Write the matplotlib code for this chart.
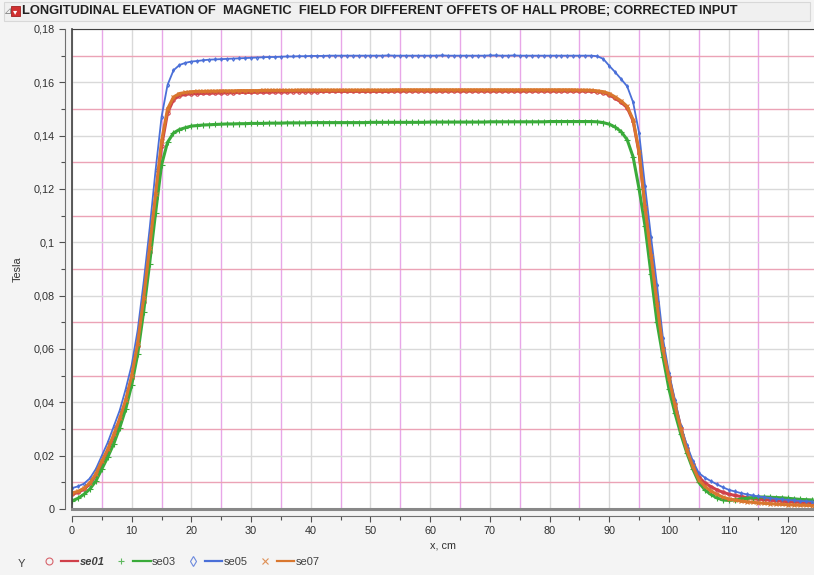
import numpy as np
import matplotlib
matplotlib.use('Agg')
import matplotlib.pyplot as plt
from matplotlib.ticker import MultipleLocator, FuncFormatter
from matplotlib.lines import Line2D
from matplotlib.legend_handler import HandlerTuple
from matplotlib.patches import Rectangle

plt.rcParams['font.family'] = ['Liberation Sans', 'DejaVu Sans']

# position along the magnet axis, cm (one reading per cm)
x_cm = np.arange(0, 125)

# field readings in tesla for each probe offset
se01 = [
    0.0055, 0.0062, 0.0074, 0.0094, 0.0126, 0.0172, 0.0218, 0.0273, 0.0333, 0.0402,
    0.0490, 0.0610, 0.0775, 0.0965, 0.1165, 0.1360, 0.1485, 0.1535, 0.1550, 0.1555,
    0.1557, 0.1558, 0.1559, 0.1559, 0.1560, 0.1560, 0.1561, 0.1561, 0.1562, 0.1562,
    0.1562, 0.1563, 0.1563, 0.1563, 0.1564, 0.1564, 0.1564, 0.1565, 0.1565, 0.1565,
    0.1565, 0.1565, 0.1566, 0.1566, 0.1566, 0.1566, 0.1566, 0.1566, 0.1566, 0.1566,
    0.1566, 0.1566, 0.1566, 0.1566, 0.1567, 0.1567, 0.1567, 0.1567, 0.1567, 0.1567,
    0.1567, 0.1567, 0.1567, 0.1567, 0.1567, 0.1567, 0.1567, 0.1567, 0.1567, 0.1567,
    0.1567, 0.1567, 0.1567, 0.1567, 0.1567, 0.1567, 0.1567, 0.1567, 0.1567, 0.1567,
    0.1567, 0.1567, 0.1567, 0.1567, 0.1567, 0.1567, 0.1567, 0.1566, 0.1565, 0.1561,
    0.1553, 0.1540, 0.1525, 0.1505, 0.1455, 0.1335, 0.1135, 0.0955, 0.0775, 0.0605,
    0.0495, 0.0395, 0.0305, 0.0228, 0.0168, 0.0120, 0.0098, 0.0084, 0.0072, 0.0063,
    0.0056, 0.0051, 0.0047, 0.0043, 0.0040, 0.0037, 0.0035, 0.0033, 0.0031, 0.0029,
    0.0027, 0.0026, 0.0025, 0.0024, 0.0023]

se03 = [
    0.0030, 0.0040, 0.0055, 0.0075, 0.0105, 0.0150, 0.0195, 0.0245, 0.0305, 0.0375,
    0.0465, 0.0580, 0.0740, 0.0920, 0.1110, 0.1290, 0.1375, 0.1410, 0.1423, 0.1430,
    0.1436, 0.1438, 0.1440, 0.1441, 0.1442, 0.1443, 0.1444, 0.1444, 0.1445, 0.1445,
    0.1446, 0.1446, 0.1446, 0.1447, 0.1447, 0.1447, 0.1448, 0.1448, 0.1448, 0.1448,
    0.1449, 0.1449, 0.1449, 0.1449, 0.1449, 0.1449, 0.1449, 0.1449, 0.1449, 0.1449,
    0.1450, 0.1450, 0.1450, 0.1450, 0.1450, 0.1450, 0.1450, 0.1450, 0.1450, 0.1450,
    0.1451, 0.1451, 0.1451, 0.1451, 0.1451, 0.1451, 0.1451, 0.1451, 0.1451, 0.1451,
    0.1452, 0.1452, 0.1452, 0.1452, 0.1452, 0.1452, 0.1452, 0.1452, 0.1452, 0.1452,
    0.1453, 0.1453, 0.1453, 0.1453, 0.1453, 0.1453, 0.1453, 0.1453, 0.1452, 0.1449,
    0.1443, 0.1432, 0.1415, 0.1385, 0.1320, 0.1200, 0.1060, 0.0880, 0.0700, 0.0570,
    0.0450, 0.0360, 0.0280, 0.0210, 0.0150, 0.0100, 0.0072, 0.0055, 0.0042, 0.0034,
    0.0032, 0.0034, 0.0037, 0.0040, 0.0043, 0.0045, 0.0045, 0.0044, 0.0043, 0.0042,
    0.0040, 0.0038, 0.0036, 0.0035, 0.0034]

se05 = [
    0.0078, 0.0085, 0.0095, 0.0115, 0.0150, 0.0200, 0.0250, 0.0310, 0.0370, 0.0450,
    0.0540, 0.0670, 0.0850, 0.1050, 0.1270, 0.1470, 0.1590, 0.1645, 0.1665, 0.1673,
    0.1678, 0.1680, 0.1683, 0.1685, 0.1686, 0.1687, 0.1688, 0.1689, 0.1690, 0.1691,
    0.1692, 0.1693, 0.1694, 0.1695, 0.1695, 0.1696, 0.1697, 0.1697, 0.1698, 0.1698,
    0.1699, 0.1699, 0.1699, 0.1700, 0.1700, 0.1700, 0.1700, 0.1700, 0.1700, 0.1700,
    0.1700, 0.1700, 0.1700, 0.1701, 0.1700, 0.1700, 0.1700, 0.1700, 0.1700, 0.1700,
    0.1700, 0.1700, 0.1701, 0.1700, 0.1700, 0.1700, 0.1700, 0.1700, 0.1700, 0.1700,
    0.1701, 0.1701, 0.1700, 0.1700, 0.1701, 0.1700, 0.1700, 0.1700, 0.1700, 0.1700,
    0.1700, 0.1700, 0.1700, 0.1700, 0.1700, 0.1700, 0.1700, 0.1700, 0.1698, 0.1688,
    0.1662, 0.1638, 0.1612, 0.1585, 0.1525, 0.1410, 0.1210, 0.1020, 0.0840, 0.0640,
    0.0510, 0.0410, 0.0310, 0.0240, 0.0180, 0.0135, 0.0118, 0.0105, 0.0093, 0.0082,
    0.0072, 0.0066, 0.0060, 0.0055, 0.0051, 0.0047, 0.0044, 0.0041, 0.0038, 0.0036,
    0.0034, 0.0032, 0.0030, 0.0029, 0.0028]

se07 = [
    0.0060, 0.0066, 0.0078, 0.0098, 0.0132, 0.0180, 0.0225, 0.0280, 0.0340, 0.0410,
    0.0500, 0.0620, 0.0790, 0.0980, 0.1180, 0.1380, 0.1500, 0.1545, 0.1558, 0.1562,
    0.1565, 0.1566, 0.1566, 0.1567, 0.1567, 0.1568, 0.1568, 0.1568, 0.1569, 0.1569,
    0.1569, 0.1569, 0.1570, 0.1570, 0.1570, 0.1570, 0.1570, 0.1570, 0.1571, 0.1571,
    0.1571, 0.1571, 0.1571, 0.1571, 0.1571, 0.1571, 0.1571, 0.1571, 0.1571, 0.1571,
    0.1571, 0.1571, 0.1571, 0.1571, 0.1572, 0.1572, 0.1572, 0.1572, 0.1572, 0.1572,
    0.1572, 0.1572, 0.1572, 0.1572, 0.1572, 0.1572, 0.1572, 0.1572, 0.1572, 0.1572,
    0.1572, 0.1572, 0.1572, 0.1572, 0.1572, 0.1572, 0.1572, 0.1572, 0.1572, 0.1572,
    0.1572, 0.1572, 0.1572, 0.1572, 0.1572, 0.1571, 0.1571, 0.1570, 0.1568, 0.1565,
    0.1558, 0.1545, 0.1530, 0.1510, 0.1460, 0.1340, 0.1130, 0.0950, 0.0770, 0.0600,
    0.0490, 0.0390, 0.0300, 0.0220, 0.0160, 0.0110, 0.0085, 0.0068, 0.0055, 0.0045,
    0.0038, 0.0034, 0.0030, 0.0027, 0.0025, 0.0023, 0.0021, 0.0020, 0.0018, 0.0017,
    0.0016, 0.0015, 0.0014, 0.0014, 0.0013]

names = ['se01', 'se03', 'se05', 'se07']
series = [se01, se03, se05, se07]
colors = ['#d0404a', '#3aab3a', '#4a6fd8', '#d9772e']
markers = ['o', '+', 'd', 'x']
msizes = [2.4, 4.2, 1.8, 3.0]
widths = [2.2, 2.2, 1.3, 2.2]
titre = ('LONGITUDINAL ELEVATION OF  MAGNETIC  FIELD FOR DIFFERENT '
         'OFFETS OF HALL PROBE; CORRECTED INPUT')

fig = plt.figure(figsize=(8.14, 5.75), dpi=100, facecolor='#f4f4f4')
W, H = 814.0, 575.0

# bandeau du titre
fig.add_artist(Rectangle((4 / W, 1 - 21 / H), 1 - 8 / W, 19 / H, transform=fig.transFigure,
                         facecolor='#f0f0f0', edgecolor='#d8d8d8', lw=0.8))
fig.add_artist(Rectangle((11 / W, 1 - 16 / H), 9 / W, 10 / H, transform=fig.transFigure,
                         facecolor='#d03030', edgecolor='#a02020', lw=0.6))
fig.text(15.5 / W, 1 - 11.5 / H, '\u25BE', color='white', fontsize=6,
         ha='center', va='center', family=['DejaVu Sans'])
fig.text(4 / W, 1 - 11 / H, '\u22BF', color='#808080', fontsize=7, va='center',
         family=['DejaVu Sans'])
fig.text(22 / W, 1 - 11 / H, titre, fontsize=9.25, fontweight='bold', va='center',
         color='#202020')

ax = fig.add_axes([72 / W, 66 / H, 1 - 72 / W, (509 - 29) / H])
ax.set_facecolor('white')

for y, c, m, ms, lw in zip(series, colors, markers, msizes, widths):
    ax.plot(x_cm, y, color=c, lw=lw, marker=m, ms=ms, mew=0.8,
            fillstyle='none', zorder=3)

ax.set_xlim(0, 124.3)
ax.set_ylim(0, 0.18)

ax.xaxis.set_major_locator(MultipleLocator(10))
ax.xaxis.set_minor_locator(MultipleLocator(5))
ax.yaxis.set_major_locator(MultipleLocator(0.02))
ax.yaxis.set_minor_locator(MultipleLocator(0.01))
ax.yaxis.set_major_formatter(FuncFormatter(
    lambda v, pos: ('%g' % round(v, 3)).replace('.', ',')))

ax.grid(True, which='major', color='#d9d9d9', lw=1.0, zorder=0)
ax.xaxis.grid(True, which='minor', color='#e8a6e8', lw=1.0)
ax.yaxis.grid(True, which='minor', color='#eba3b6', lw=1.0)
ax.set_axisbelow(True)

# axes décalés du cadre, comme dans JMP
ax.spines['right'].set_visible(False)
ax.spines['top'].set_color('#404040')
for s in ['left', 'bottom']:
    ax.spines[s].set_position(('outward', 5))
    ax.spines[s].set_color('#707070')
    ax.spines[s].set_linewidth(0.8)
ax.axvline(0, color='#404040', lw=1.2, clip_on=False, zorder=4)
ax.axhline(0, color='#888888', lw=2.2, clip_on=False, zorder=4)

ax.tick_params(which='both', direction='out', color='#505050', width=0.8,
               labelsize=7.8, labelcolor='#303030')
ax.tick_params(which='major', length=4)
ax.tick_params(which='minor', length=3)

ax.set_xlabel('x, cm', fontsize=7.8, color='#303030', labelpad=3)
ax.set_ylabel('Tesla', fontsize=7.8, color='#303030', labelpad=8)

# légende en bas
handles = []
for c, m in zip(colors, markers):
    mk = Line2D([], [], ls='none', marker=m, color=c, ms=5, mew=0.8,
                fillstyle='none', alpha=0.8)
    ln = Line2D([], [], color=c, lw=1.6)
    handles.append((mk, ln))
leg = fig.legend(handles, names, handler_map={tuple: HandlerTuple(ndivide=None, pad=0.3)},
                 loc='center left', bbox_to_anchor=(40 / W, 1 - 562 / H), ncol=4,
                 frameon=False, fontsize=8, handlelength=3.4, handletextpad=0.15,
                 columnspacing=0.75, borderaxespad=0, borderpad=0)
for t in leg.get_texts():
    t.set_color('#404040')
leg.get_texts()[0].set_fontweight('bold')
leg.get_texts()[0].set_fontstyle('italic')
fig.text(18 / W, 1 - 564 / H, 'Y', fontsize=8, color='#404040', va='center')

fig.savefig('out.png', dpi=100, facecolor=fig.get_facecolor())
